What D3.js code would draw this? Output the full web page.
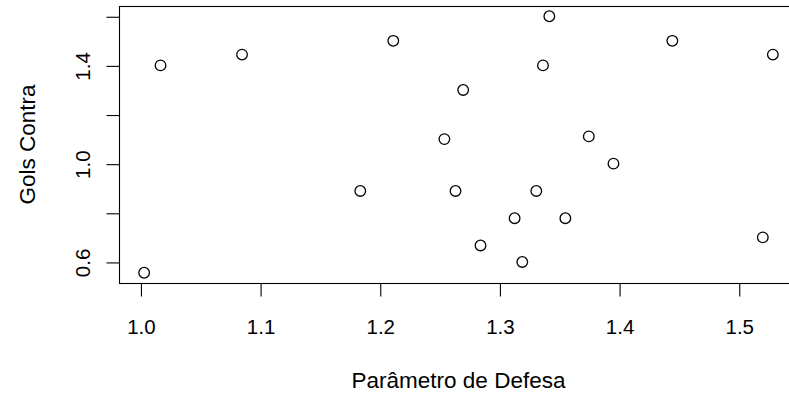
<!DOCTYPE html>
<html>
<head>
<meta charset="utf-8">
<script src="https://cdn.jsdelivr.net/npm/d3@7/dist/d3.min.js"></script>
<style>
  html, body { margin: 0; padding: 0; background: #fff; overflow: hidden; }
  svg { display: block; }
  text { font-family: "Liberation Sans", Arial, sans-serif; fill: #000; }
</style>
</head>
<body>
<svg id="chart" width="789" height="394"></svg>
<script>
// Data: Parâmetro de Defesa (x) vs Gols Contra (y)
const defesa = [1.0168, 1.0849, 1.2113, 1.1837, 1.0031, 1.3417, 1.4445, 1.5285, 1.3364, 1.2697,
                1.2540, 1.3747, 1.3953, 1.2633, 1.3308, 1.3127, 1.3551, 1.2842, 1.3191, 1.5201];
const golsContra = [1.400, 1.444, 1.500, 0.889, 0.556, 1.600, 1.500, 1.444, 1.400, 1.300,
                    1.100, 1.111, 1.000, 0.889, 0.889, 0.778, 0.778, 0.667, 0.600, 0.700];
const xTicks = [1.0, 1.1, 1.2, 1.3, 1.4, 1.5];
const yTicks = [0.6, 0.8, 1.0, 1.2, 1.4, 1.6];
const yTickLabels = ["0.6", "", "1.0", "", "1.4", ""];
const xTitle = "Parâmetro de Defesa";
const yTitle = "Gols Contra";

const svg = d3.select("#chart");
const pLeft = 119, pRight = 798, pTop = 6, pBottom = 283;

function padExtent(arr) {
  const [a, b] = d3.extent(arr);
  const p = (b - a) * 0.04;
  return [a - p, b + p];
}

const x = d3.scaleLinear().domain(padExtent(defesa)).range([pLeft, pRight]);
const y = d3.scaleLinear().domain(padExtent(golsContra)).range([pBottom, pTop]);

// Box
svg.append("rect")
  .attr("x", pLeft + 0.5).attr("y", pTop + 0.5)
  .attr("width", pRight - pLeft).attr("height", pBottom - pTop)
  .attr("fill", "none").attr("stroke", "#000").attr("stroke-width", 1.1);

// X axis
const xAxis = svg.append("g")
  .attr("transform", `translate(0.5,${pBottom + 0.5})`)
  .call(d3.axisBottom(x).tickValues(xTicks).tickSize(13).tickSizeOuter(0).tickFormat(d3.format(".1f")));
xAxis.select(".domain").remove();
xAxis.selectAll("line").attr("stroke", "#000").attr("stroke-width", 1.1);
xAxis.selectAll("text")
  .attr("y", 50).attr("dy", 0)
  .style("font-size", "20.5px").attr("fill", "#000");

// Y axis
const yAxis = svg.append("g")
  .attr("transform", `translate(${pLeft + 0.5},0.5)`)
  .call(d3.axisLeft(y).tickValues(yTicks).tickSize(13).tickSizeOuter(0)
        .tickFormat((d, i) => yTickLabels[i]));
yAxis.select(".domain").remove();
yAxis.selectAll("line").attr("stroke", "#000").attr("stroke-width", 1.1);
yAxis.selectAll("text")
  .attr("x", 0).attr("y", 0).attr("dy", 0)
  .attr("text-anchor", "middle")
  .attr("transform", "translate(-30,0) rotate(-90)")
  .style("font-size", "20.5px").attr("fill", "#000");

// Points
svg.append("g").selectAll("circle")
  .data(defesa.map((d, i) => [d, golsContra[i]]))
  .join("circle")
  .attr("cx", d => x(d[0]))
  .attr("cy", d => y(d[1]))
  .attr("r", 5.3)
  .attr("fill", "none")
  .attr("stroke", "#000")
  .attr("stroke-width", 1.3);

// Titles
svg.append("text")
  .attr("x", (pLeft + pRight) / 2).attr("y", 388)
  .attr("text-anchor", "middle")
  .style("font-size", "22.5px")
  .text(xTitle);

svg.append("text")
  .attr("transform", `translate(35,${(pTop + pBottom) / 2}) rotate(-90)`)
  .attr("text-anchor", "middle")
  .style("font-size", "22.5px")
  .text(yTitle);
</script>
</body>
</html>
